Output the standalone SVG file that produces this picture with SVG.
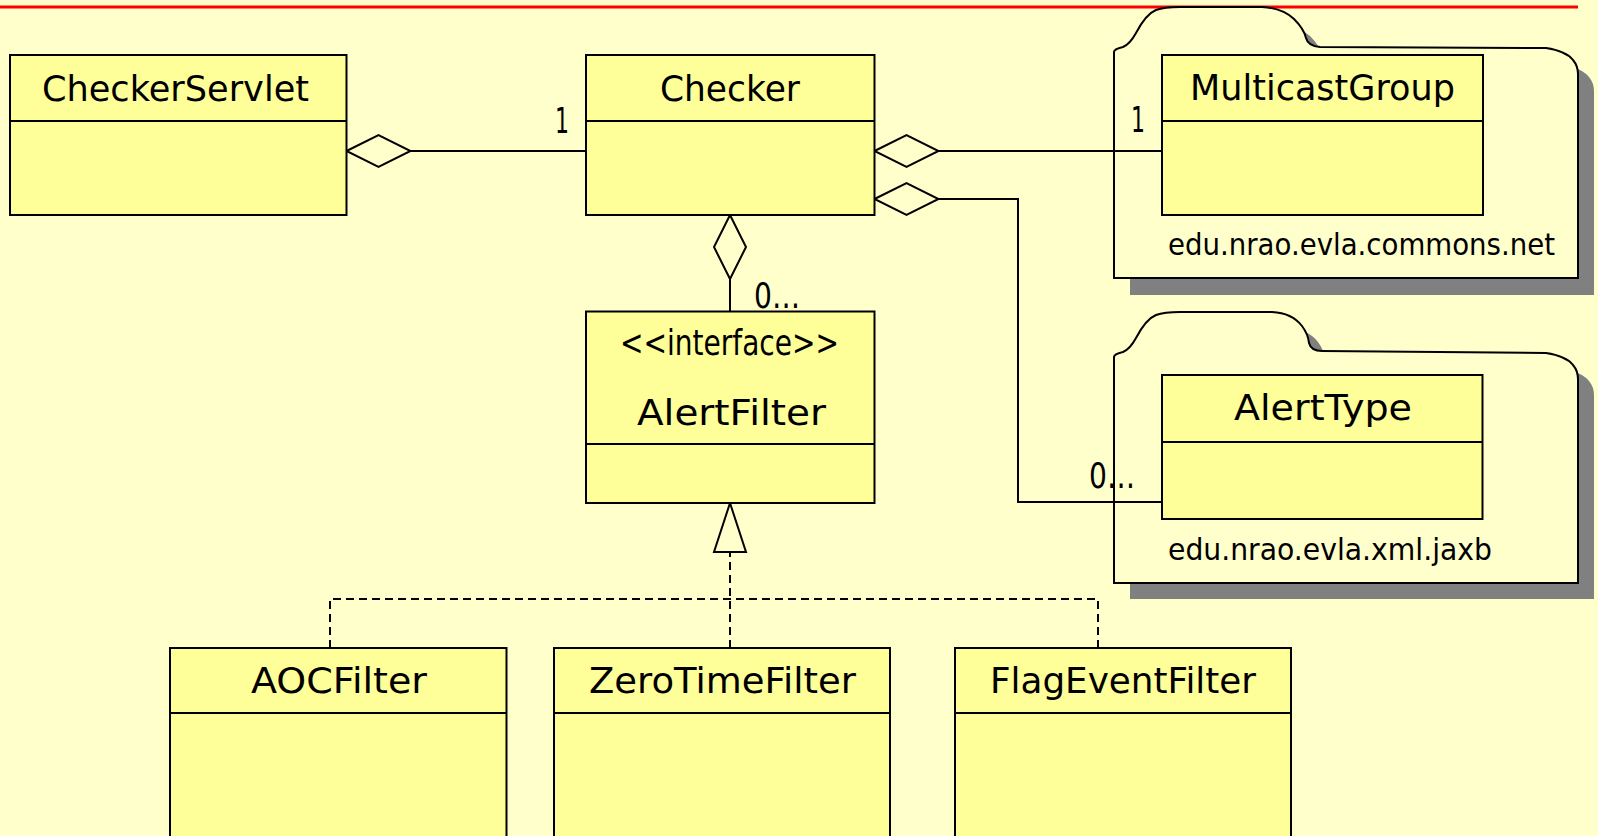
<svg xmlns="http://www.w3.org/2000/svg" width="1598" height="836" viewBox="0 0 1598 836">
<style>
.bg{fill:#FFFFCC}
.cls{fill:#FFFF99;stroke:#000;stroke-width:2}
.div{stroke:#000;stroke-width:2}
.pkg{fill:#FFFFCC;stroke:#000;stroke-width:2}
.shadow{fill:#808080}
.t{font-family:'Comic Sans MS','DejaVu Sans',sans-serif;font-size:36px;fill:#000}
.ps{font-family:'Comic Sans MS','DejaVu Sans',sans-serif;font-size:30px;fill:#000}
.conn{fill:none;stroke:#000;stroke-width:2}
.dash{stroke-dasharray:8,5}
</style>
<defs>
<marker id="aggr" markerUnits="userSpaceOnUse" markerWidth="70" markerHeight="40" viewBox="-3 -20 70 40" refX="0" refY="0" orient="auto">
<path d="M0,0 L32,-16 L64,0 L32,16 Z" fill="#FFFFCC" stroke="#000" stroke-width="2"/>
</marker>
<marker id="gen" markerUnits="userSpaceOnUse" markerWidth="56" markerHeight="40" viewBox="-52 -20 56 40" refX="0" refY="0" orient="auto">
<path d="M0,0 L-49,-16 L-49,16 Z" fill="#FFFFCC" stroke="#000" stroke-width="2"/>
</marker>
<path id="pkg1" d="M1114,278 L1114,52 Q1114,49 1123,47 Q1130,44 1136,33 Q1146,14 1156,10 Q1164,7 1180,7 L1262,7 Q1282,8 1294,19 Q1304,29 1306,38 Q1308,46 1320,47 L1546,48 Q1566,51 1573,60 Q1578,66 1578,74 L1578,278 Z"/>
<path id="pkg2" d="M1114,583 L1114,357 Q1114,354 1123,352 Q1130,349 1136,338 Q1146,319 1156,315 Q1164,312 1180,312 L1272,312 Q1292,313 1302,326 Q1308,334 1309,343 Q1311,351 1322,351 L1546,353 Q1566,356 1573,365 Q1578,371 1578,379 L1578,583 Z"/>
</defs>
<rect class="bg" x="0" y="0" width="1598" height="836"/>
<line x1="0" y1="7" x2="1578" y2="7" stroke="#FF0000" stroke-width="3"/>

<g id="pkg-commons-net">
<use href="#pkg1" class="shadow" transform="translate(16,17)"/>
<use href="#pkg1" class="pkg"/>
<text class="ps" x="1168" y="255" textLength="387" lengthAdjust="spacingAndGlyphs">edu.nrao.evla.commons.net</text>
</g>
<g id="pkg-xml-jaxb">
<use href="#pkg2" class="shadow" transform="translate(16,16)"/>
<use href="#pkg2" class="pkg"/>
<text class="ps" x="1168" y="560" textLength="324" lengthAdjust="spacingAndGlyphs">edu.nrao.evla.xml.jaxb</text>
</g>

<g id="connectors">
<path class="conn" d="M346.5,151 L586,151" marker-start="url(#aggr)"/>
<path class="conn" d="M874.5,151 L1162,151" marker-start="url(#aggr)"/>
<path class="conn" d="M874.5,199 L1018,199 L1018,502 L1162,502" marker-start="url(#aggr)"/>
<path class="conn" d="M730,215 L730,311.5" marker-start="url(#aggr)"/>
<path class="conn dash" d="M330,648 L330,599 L1098,599 L1098,648"/>
<path class="conn dash" d="M730,648 L730,503" marker-end="url(#gen)"/>
<text class="t" x="555" y="133" textLength="14" lengthAdjust="spacingAndGlyphs">1</text>
<text class="t" x="1131" y="132" textLength="14" lengthAdjust="spacingAndGlyphs">1</text>
<text class="t" x="754" y="308" textLength="46" lengthAdjust="spacingAndGlyphs">0…</text>
<text class="t" x="1089" y="488" textLength="46" lengthAdjust="spacingAndGlyphs">0…</text>
</g>

<g id="CheckerServlet">
<rect class="cls" x="10" y="55" width="336.5" height="160"/>
<line class="div" x1="10" y1="121" x2="346.5" y2="121"/>
<text class="t" x="42" y="101" textLength="267" lengthAdjust="spacingAndGlyphs">CheckerServlet</text>
</g>
<g id="Checker">
<rect class="cls" x="586" y="55" width="288.5" height="160"/>
<line class="div" x1="586" y1="121" x2="874.5" y2="121"/>
<text class="t" x="660" y="101" textLength="140" lengthAdjust="spacingAndGlyphs">Checker</text>
</g>
<g id="MulticastGroup">
<rect class="cls" x="1162" y="55" width="321" height="160"/>
<line class="div" x1="1162" y1="121" x2="1483" y2="121"/>
<text class="t" x="1190" y="100" textLength="265" lengthAdjust="spacingAndGlyphs">MulticastGroup</text>
</g>
<g id="AlertType">
<rect class="cls" x="1162" y="375" width="320.5" height="144"/>
<line class="div" x1="1162" y1="442" x2="1482.5" y2="442"/>
<text class="t" x="1234" y="420" textLength="178" lengthAdjust="spacingAndGlyphs">AlertType</text>
</g>
<g id="AlertFilter">
<rect class="cls" x="586" y="311.5" width="288.5" height="191.5"/>
<line class="div" x1="586" y1="444" x2="874.5" y2="444"/>
<text class="t" x="620" y="355" textLength="219" lengthAdjust="spacingAndGlyphs">&lt;&lt;interface&gt;&gt;</text>
<text class="t" x="637" y="425" textLength="189" lengthAdjust="spacingAndGlyphs">AlertFilter</text>
</g>
<g id="AOCFilter">
<rect class="cls" x="170" y="648" width="336.5" height="210"/>
<line class="div" x1="170" y1="713" x2="506.5" y2="713"/>
<text class="t" x="251" y="693" textLength="176" lengthAdjust="spacingAndGlyphs">AOCFilter</text>
</g>
<g id="ZeroTimeFilter">
<rect class="cls" x="554" y="648" width="336" height="210"/>
<line class="div" x1="554" y1="713" x2="890" y2="713"/>
<text class="t" x="589" y="693" textLength="267" lengthAdjust="spacingAndGlyphs">ZeroTimeFilter</text>
</g>
<g id="FlagEventFilter">
<rect class="cls" x="955" y="648" width="336" height="210"/>
<line class="div" x1="955" y1="713" x2="1291" y2="713"/>
<text class="t" x="990" y="693" textLength="266" lengthAdjust="spacingAndGlyphs">FlagEventFilter</text>
</g>
</svg>
